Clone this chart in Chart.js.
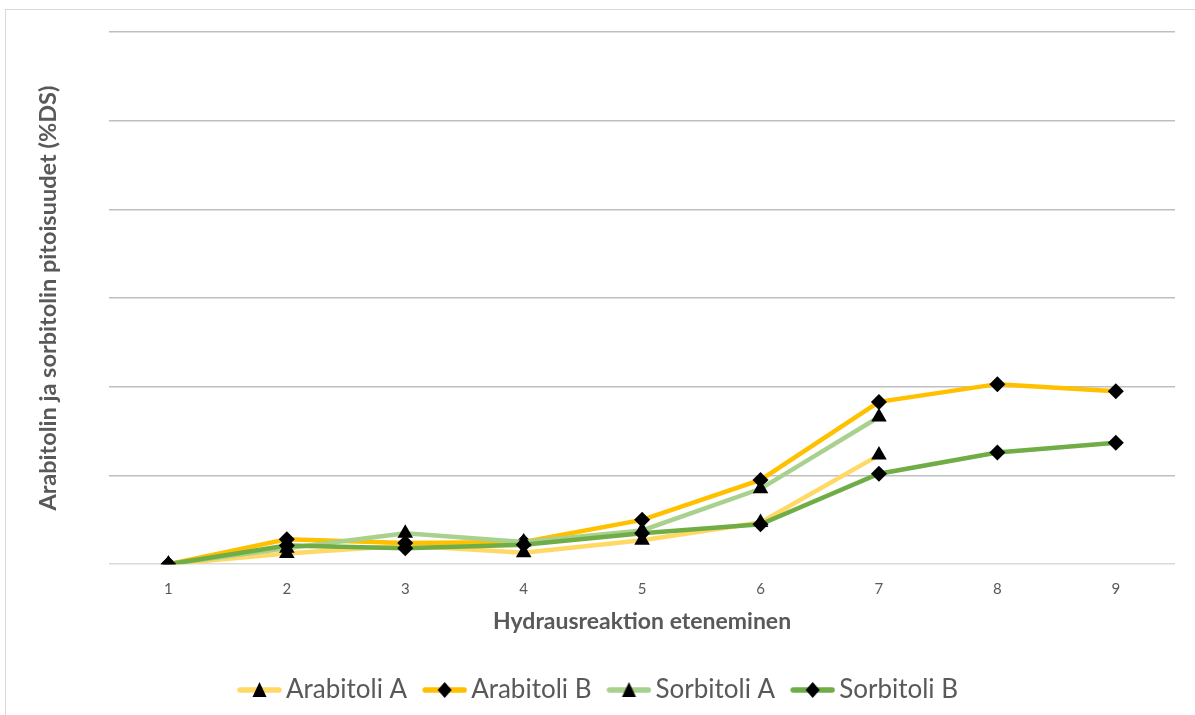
<!DOCTYPE html>
<html lang="fi">
<head>
  <meta charset="UTF-8">
  <title>Hydrausreaktio</title>
  <script src="https://cdn.jsdelivr.net/npm/chart.js"></script>
  <style>
    html, body { margin: 0; padding: 0; background: #fff; }
    #wrap { position: relative; width: 1195px; height: 715px; overflow: hidden; }
    #frame { position: absolute; left: 5px; top: 9px; width: 1300px; height: 800px;
             border-left: 1px solid #d9d9d9; border-top: 1px solid #d9d9d9; }
    #myChart { position: absolute; left: 0; top: 0; }
  </style>
</head>
<body>
  <div id="wrap">
    <div id="frame"></div>
    <canvas id="myChart" width="1195" height="715"></canvas>
  </div>

  <script>
    // reaction steps on the x axis
    const steps = ['1', '2', '3', '4', '5', '6', '7', '8', '9'];

    // contents per step (%DS), A runs stop after step 7
    const arabitolA = [0, 0.12, 0.21, 0.13, 0.27, 0.47, 1.23, null, null];
    const arabitolB = [0, 0.28, 0.24, 0.25, 0.50, 0.95, 1.83, 2.03, 1.95];
    const sorbitolA = [0, 0.18, 0.35, 0.25, 0.38, 0.85, 1.66, null, null];
    const sorbitolB = [0, 0.21, 0.18, 0.22, 0.35, 0.45, 1.02, 1.26, 1.37];

    const seriesNames = ['Arabitoli A', 'Arabitoli B', 'Sorbitoli A', 'Sorbitoli B'];
    const seriesColors = ['#FFD966', '#FFC000', '#A9D18E', '#70AD47'];

    const textGrey = '#595959';
    const font = 'Lato, "Open Sans", sans-serif';

    function makeSeries(name, data, color, marker, order) {
      return {
        label: name,
        data: data,
        borderColor: color,
        backgroundColor: '#000',
        borderWidth: 4.5,
        pointStyle: marker,
        pointRadius: marker === 'triangle' ? 9 : 8,
        pointBorderWidth: 0,
        pointBackgroundColor: '#000',
        pointBorderColor: '#000',
        tension: 0,
        spanGaps: false,
        order: order
      };
    }

    // legend swatch: short coloured line with the black marker on top.
    // 9px of empty space on the left pulls the swatch towards its label.
    function legendIcon(color, marker) {
      const c = document.createElement('canvas');
      c.width = 54; c.height = 22;
      const g = c.getContext('2d');
      g.strokeStyle = color;
      g.lineWidth = 5.5;
      g.lineCap = 'round';
      g.beginPath(); g.moveTo(12, 11); g.lineTo(51, 11); g.stroke();
      g.fillStyle = '#000';
      g.beginPath();
      const cx = 31.5;
      if (marker === 'triangle') {
        g.moveTo(cx, 3); g.lineTo(cx + 7, 18); g.lineTo(cx - 7, 18);
      } else {
        g.moveTo(cx, 3); g.lineTo(cx + 7, 11); g.lineTo(cx, 19); g.lineTo(cx - 7, 11);
      }
      g.closePath(); g.fill();
      return c;
    }

    const markers = ['triangle', 'rectRot', 'triangle', 'rectRot'];
    const icons = seriesColors.map((col, i) => legendIcon(col, markers[i]));

    const ctx = document.getElementById('myChart').getContext('2d');
    const chart = new Chart(ctx, {
      type: 'line',
      data: {
        labels: steps,
        datasets: [
          makeSeries(seriesNames[0], arabitolA, seriesColors[0], markers[0], 4),
          makeSeries(seriesNames[1], arabitolB, seriesColors[1], markers[1], 3),
          makeSeries(seriesNames[2], sorbitolA, seriesColors[2], markers[2], 2),
          makeSeries(seriesNames[3], sorbitolB, seriesColors[3], markers[3], 1)
        ]
      },
      options: {
        responsive: false,
        animation: false,
        devicePixelRatio: 1,
        layout: { padding: { left: 20, right: 20, top: 32, bottom: 2 } },
        plugins: {
          tooltip: { enabled: false },
          legend: {
            position: 'bottom',
            labels: {
              usePointStyle: true,
              pointStyleWidth: 36,
              boxHeight: 22,
              color: textGrey,
              font: { family: font, size: 26 },
              padding: 15,
              generateLabels: (chart) => chart.data.datasets.map((ds, i) => ({
                text: ds.label,
                pointStyle: icons[i],
                fillStyle: '#000',
                strokeStyle: '#000',
                lineWidth: 0,
                hidden: false,
                datasetIndex: i,
                fontColor: textGrey
              }))
            }
          }
        },
        scales: {
          x: {
            offset: true,
            grid: { display: false, drawTicks: false },
            border: { display: false },
            ticks: { color: textGrey, font: { family: font, size: 15 }, padding: 16 },
            title: {
              display: true,
              text: 'Hydrausreaktion eteneminen',
              color: textGrey,
              font: { family: font, size: 23, weight: 'bold', lineHeight: 0.6 },
              padding: { top: 0, bottom: 34 }
            }
          },
          y: {
            min: 0,
            max: 6,
            grid: {
              color: (c) => c.tick.value === 0 ? '#d9d9d9' : '#bfbfbf',
              lineWidth: 1.5,
              drawTicks: false
            },
            border: { display: false },
            ticks: { display: false, stepSize: 1 },
            title: {
              display: true,
              text: 'Arabitolin ja sorbitolin pitoisuudet (%DS)',
              color: textGrey,
              font: { family: font, size: 23.5, weight: 'bold' },
              padding: { top: 14, bottom: 47 }
            }
          }
        }
      }
    });
  </script>
</body>
</html>
